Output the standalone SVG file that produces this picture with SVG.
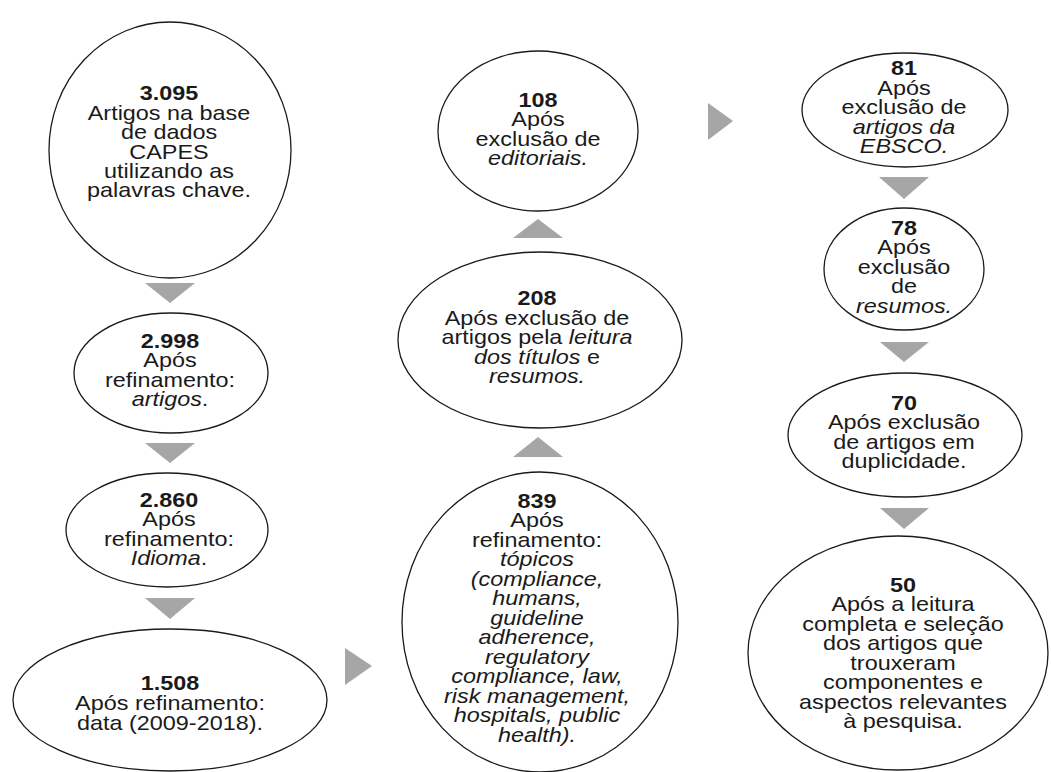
<svg xmlns="http://www.w3.org/2000/svg" width="1051" height="772" viewBox="0 0 1051 772">
<style>
.n{fill:#fff;stroke:#1a1a1a;stroke-width:1.3}
.a{fill:#a6a6a6;stroke:none}
.t{font-family:"Liberation Sans",Arial,sans-serif;font-size:20px;fill:#1a1a1a;text-anchor:middle}
.b{font-weight:bold}
.i{font-style:italic}
</style>
<rect width="1051" height="772" fill="#fff"/>
<g id="connectors">
<polygon class="a" points="145,283 195,283 170,303"/>
<polygon class="a" points="145,443 195,443 170,463"/>
<polygon class="a" points="145,598 195,598 170,619"/>
<polygon class="a" points="345,648 345,685 372,666"/>
<polygon class="a" points="513,457 563,457 538,437"/>
<polygon class="a" points="513,238 563,238 538,219"/>
<polygon class="a" points="708,103 708,140 733,121"/>
<polygon class="a" points="879,177 929,177 904,199"/>
<polygon class="a" points="880,342 929,342 904,362"/>
<polygon class="a" points="880,508 929,508 904,529"/>
</g>
<g id="n3095">
<ellipse class="n" cx="170" cy="150" rx="121" ry="128"/>
<text class="t" transform="translate(169,0) scale(1.17,1)"><tspan class="b" x="0" y="100.5">3.095</tspan><tspan x="0" y="119.9">Artigos na base</tspan><tspan x="0" y="139.3">de dados</tspan><tspan x="0" y="158.7">CAPES</tspan><tspan x="0" y="178.1">utilizando as</tspan><tspan x="0" y="197.5">palavras chave.</tspan></text>
</g>
<g id="n2998">
<ellipse class="n" cx="171" cy="373" rx="97" ry="60"/>
<text class="t" transform="translate(170,0) scale(1.17,1)"><tspan class="b" x="0" y="348">2.998</tspan><tspan x="0" y="367.5">Após</tspan><tspan x="0" y="387">refinamento:</tspan><tspan x="0" y="406.5"><tspan class="i">artigos</tspan>.</tspan></text>
</g>
<g id="n2860">
<ellipse class="n" cx="167" cy="530" rx="101" ry="57"/>
<text class="t" transform="translate(169,0) scale(1.17,1)"><tspan class="b" x="0" y="507">2.860</tspan><tspan x="0" y="526.5">Após</tspan><tspan x="0" y="546">refinamento:</tspan><tspan x="0" y="565.5"><tspan class="i">Idioma</tspan>.</tspan></text>
</g>
<g id="n1508">
<ellipse class="n" cx="170" cy="700" rx="157" ry="71"/>
<text class="t" transform="translate(170,0) scale(1.17,1)"><tspan class="b" x="0" y="690">1.508</tspan><tspan x="0" y="710">Após refinamento:</tspan><tspan x="0" y="730">data (2009-2018).</tspan></text>
</g>
<g id="n839">
<ellipse class="n" cx="540" cy="622" rx="138" ry="150"/>
<text class="t" transform="translate(537,0) scale(1.17,1)"><tspan class="b" x="0" y="508">839</tspan><tspan x="0" y="527.5">Após</tspan><tspan x="0" y="547">refinamento:</tspan><tspan class="i" x="0" y="566.5">tópicos</tspan><tspan class="i" x="0" y="586">(compliance,</tspan><tspan class="i" x="0" y="605.5">humans,</tspan><tspan class="i" x="0" y="625">guideline</tspan><tspan class="i" x="0" y="644.5">adherence,</tspan><tspan class="i" x="0" y="664">regulatory</tspan><tspan class="i" x="0" y="683.5">compliance, law,</tspan><tspan class="i" x="0" y="703">risk management,</tspan><tspan class="i" x="0" y="722.5">hospitals, public</tspan><tspan class="i" x="0" y="742">health).</tspan></text>
</g>
<g id="n208">
<ellipse class="n" cx="540" cy="340" rx="142" ry="88"/>
<text class="t" transform="translate(537,0) scale(1.17,1)"><tspan class="b" x="0" y="305.5">208</tspan><tspan x="0" y="325">Após exclusão de</tspan><tspan x="0" y="344.5">artigos pela <tspan class="i">leitura</tspan></tspan><tspan x="0" y="364"><tspan class="i">dos títulos</tspan> e</tspan><tspan class="i" x="0" y="383.5">resumos.</tspan></text>
</g>
<g id="n108">
<ellipse class="n" cx="538" cy="131" rx="100" ry="80"/>
<text class="t" transform="translate(538,0) scale(1.17,1)"><tspan class="b" x="0" y="107">108</tspan><tspan x="0" y="126.5">Após</tspan><tspan x="0" y="146">exclusão de</tspan><tspan class="i" x="0" y="165.5">editoriais.</tspan></text>
</g>
<g id="n81">
<ellipse class="n" cx="905" cy="110" rx="103" ry="57"/>
<text class="t" transform="translate(904,0) scale(1.17,1)"><tspan class="b" x="0" y="75.5">81</tspan><tspan x="0" y="95">Após</tspan><tspan x="0" y="114.5">exclusão de</tspan><tspan class="i" x="0" y="134">artigos da</tspan><tspan class="i" x="0" y="153.5">EBSCO.</tspan></text>
</g>
<g id="n78">
<ellipse class="n" cx="904" cy="269" rx="80" ry="61"/>
<text class="t" transform="translate(904,0) scale(1.17,1)"><tspan class="b" x="0" y="235">78</tspan><tspan x="0" y="254.5">Após</tspan><tspan x="0" y="274">exclusão</tspan><tspan x="0" y="293.5">de</tspan><tspan class="i" x="0" y="313">resumos.</tspan></text>
</g>
<g id="n70">
<ellipse class="n" cx="905" cy="435" rx="117" ry="62"/>
<text class="t" transform="translate(904,0) scale(1.17,1)"><tspan class="b" x="0" y="410">70</tspan><tspan x="0" y="429.5">Após exclusão</tspan><tspan x="0" y="449">de artigos em</tspan><tspan x="0" y="468.5">duplicidade.</tspan></text>
</g>
<g id="n50">
<ellipse class="n" cx="898" cy="653" rx="150" ry="117"/>
<text class="t" transform="translate(903,0) scale(1.17,1)"><tspan class="b" x="0" y="592">50</tspan><tspan x="0" y="611.5">Após a leitura</tspan><tspan x="0" y="631">completa e seleção</tspan><tspan x="0" y="650.5">dos artigos que</tspan><tspan x="0" y="670">trouxeram</tspan><tspan x="0" y="689.5">componentes e</tspan><tspan x="0" y="709">aspectos relevantes</tspan><tspan x="0" y="728.5">à pesquisa.</tspan></text>
</g>
</svg>
